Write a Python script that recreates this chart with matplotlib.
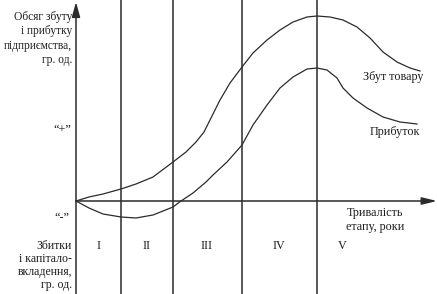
import matplotlib
matplotlib.use('Agg')
import matplotlib.pyplot as plt

# conceptual life-cycle chart, units are arbitrary (x: time, y: volume)
sales_x = [0, 13, 27, 45, 60, 77, 97, 110, 120, 128, 134, 144, 154, 166, 177, 191, 204, 217, 231,
           241, 254, 267, 281, 294, 307, 321, 334, 344]
sales_y = [0, 4, 7, 12, 17, 24, 39, 49, 59, 69, 81, 101, 118, 134, 148, 161, 171, 179, 184,
           185, 184, 181, 174, 163, 149, 139, 133, 130]

profit_x = [0, 13, 27, 45, 60, 77, 97, 105, 117, 130, 137, 151, 166, 177, 191, 204, 217, 231,
            241, 251, 261, 267, 277, 291, 307, 324, 341]
profit_y = [0, -7, -13, -16, -17, -14, -6, 0, 8, 19, 26, 39, 56, 76, 96, 113, 124, 132,
            133, 131, 123, 113, 103, 93, 84, 79, 77]

stage_bounds = [45, 97, 166, 241]
stage_labels = ['I', 'II', 'III', 'IV', 'V']
stage_label_x = [23, 71, 131, 203, 266]

LINE = '#2b2b2b'
TXT = '#1e1e1e'
plt.rcParams['font.family'] = ['Liberation Serif', 'DejaVu Serif']

fig = plt.figure(figsize=(4.37, 2.94), dpi=100)
ax = fig.add_axes([0, 0, 1, 1])
ax.set_xlim(-76, 361)
ax.set_ylim(-93, 201)
ax.axis('off')

# stage separators
for b in stage_bounds:
    ax.plot([b, b], [-93, 201], color=LINE, linewidth=1.1)

# axes with arrows
ax.annotate('', xy=(0, 199), xytext=(0, -93),
            arrowprops=dict(arrowstyle='-|>,head_length=0.9,head_width=0.25', color=LINE, lw=1.1,
                            shrinkA=0, shrinkB=0))
ax.annotate('', xy=(361, 0), xytext=(0, 0),
            arrowprops=dict(arrowstyle='-|>,head_length=0.9,head_width=0.22', color=LINE, lw=1.1,
                            shrinkA=0, shrinkB=0))

ax.plot(sales_x, sales_y, color=LINE, linewidth=0.9, solid_joinstyle='round')
ax.plot(profit_x, profit_y, color=LINE, linewidth=0.9, solid_joinstyle='round')

fs = 8.7
ax.text(-4, 190, 'Обсяг збуту\nі прибутку\nпідприємства,\nгр. од.', ha='right', va='top',
        fontsize=8.3, color=TXT, linespacing=1.25)
ax.text(-14, 71, '“+”', ha='center', va='center', fontsize=fs, color=TXT)
ax.text(-14, -17, '“-”', ha='center', va='center', fontsize=fs, color=TXT)
ax.text(-4, -39, 'Збитки\nі капітало-\nвкладення,\nгр. од.', ha='right', va='top',
        fontsize=8.5, color=TXT, linespacing=1.1)

for lx, lab in zip(stage_label_x, stage_labels):
    ax.text(lx, -45, lab, ha='center', va='center', fontsize=fs, color=TXT)

ax.text(299, -19, 'Тривалість\nетапу, роки', ha='center', va='center', fontsize=fs, color=TXT,
        linespacing=1.3)
ax.text(317, 124, 'Збут товару', ha='center', va='center', fontsize=fs, color=TXT)
ax.text(319, 69, 'Прибуток', ha='center', va='center', fontsize=fs, color=TXT)

fig.savefig('out.png', dpi=100)
